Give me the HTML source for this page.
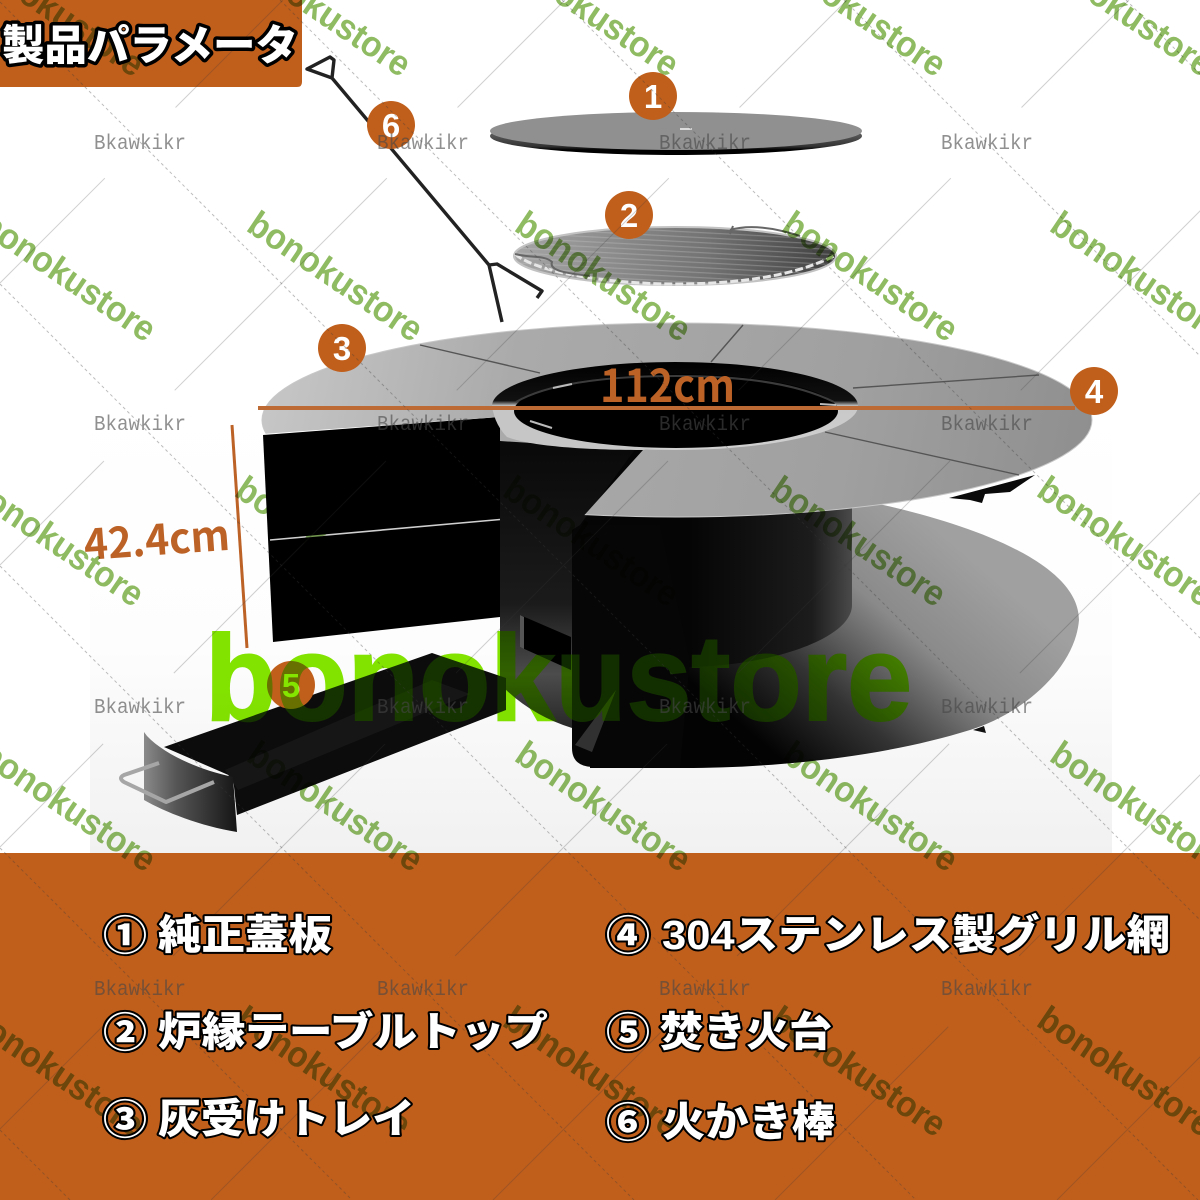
<!DOCTYPE html>
<html lang="ja"><head><meta charset="utf-8"><title>製品パラメータ</title>
<style>
html,body{margin:0;padding:0;background:#fff}
svg{display:block}
.g{font:bold 36px "Liberation Sans",sans-serif;fill:#8fbc62;mix-blend-mode:multiply}
.b{font:21px "Liberation Mono",monospace;fill:rgba(70,70,70,.6)}
.l{font-family:"Liberation Sans","Noto Sans CJK JP",sans-serif;font-weight:900;font-size:41px;fill:#fff;stroke:#000;stroke-width:4px;paint-order:stroke;stroke-linejoin:round}
.c{font-family:"Liberation Sans",sans-serif;font-weight:bold;font-size:33px;fill:#fff;text-anchor:middle}
.m{font-family:"Noto Sans CJK JP","Liberation Sans",sans-serif;font-weight:700;fill:#bd6227}
</style></head><body>
<svg width="1200" height="1200" viewBox="0 0 1200 1200" xmlns="http://www.w3.org/2000/svg">
<defs>
<linearGradient id="fl" x1="0" y1="0" x2="0" y2="1"><stop offset="0" stop-color="#fff"/><stop offset=".55" stop-color="#fdfdfd"/><stop offset="1" stop-color="#f1f1f1"/></linearGradient>
<linearGradient id="ld" gradientUnits="userSpaceOnUse" x1="950" y1="540" x2="770" y2="750"><stop offset="0" stop-color="#a0a0a0"/><stop offset=".35" stop-color="#8a8a8a"/><stop offset=".7" stop-color="#333"/><stop offset="1" stop-color="#030303"/></linearGradient>
<linearGradient id="cy" gradientUnits="userSpaceOnUse" x1="690" y1="0" x2="852" y2="0"><stop offset="0" stop-color="#050505"/><stop offset=".75" stop-color="#1c1c1c"/><stop offset="1" stop-color="#4a4a4a"/></linearGradient>
<linearGradient id="lc" gradientUnits="userSpaceOnUse" x1="0" y1="450" x2="0" y2="730"><stop offset="0" stop-color="#0a0a0a"/><stop offset=".55" stop-color="#1b1b1b"/><stop offset=".8" stop-color="#4c4c4c"/><stop offset="1" stop-color="#262626"/></linearGradient>
<linearGradient id="tb" gradientUnits="userSpaceOnUse" x1="262" y1="340" x2="1092" y2="500"><stop offset="0" stop-color="#c8c8c8"/><stop offset=".3" stop-color="#aaa"/><stop offset=".7" stop-color="#a0a0a0"/><stop offset="1" stop-color="#8e8e8e"/></linearGradient>
<linearGradient id="rg" gradientUnits="userSpaceOnUse" x1="0" y1="362" x2="0" y2="450"><stop offset="0" stop-color="#000"/><stop offset=".44" stop-color="#111"/><stop offset=".5" stop-color="#c8c8c8"/><stop offset="1" stop-color="#d0d0d0"/></linearGradient>
<linearGradient id="gr" gradientUnits="userSpaceOnUse" x1="520" y1="0" x2="835" y2="0"><stop offset="0" stop-color="#a4a4a4"/><stop offset=".6" stop-color="#727272"/><stop offset="1" stop-color="#404040"/></linearGradient>
<linearGradient id="dk" gradientUnits="userSpaceOnUse" x1="0" y1="130" x2="0" y2="155"><stop offset="0" stop-color="#666"/><stop offset=".65" stop-color="#333"/><stop offset=".8" stop-color="#000"/><stop offset="1" stop-color="#000"/></linearGradient>
<linearGradient id="fp" gradientUnits="userSpaceOnUse" x1="144" y1="0" x2="237" y2="0"><stop offset="0" stop-color="#8a8a8a"/><stop offset=".35" stop-color="#555"/><stop offset="1" stop-color="#151515"/></linearGradient>
<pattern id="gl" width="5" height="5" patternUnits="userSpaceOnUse" patternTransform="rotate(3)"><rect width="5" height="1.2" fill="#d0d0d0" opacity=".3"/></pattern>
<clipPath id="cT"><path d="M0 0H1200V600H580V520L643 450L500 441V417L262 434H0Z"/></clipPath>
</defs>

<rect width="1200" height="1200" fill="#fff"/>
<rect x="90" y="400" width="1022" height="453" fill="url(#fl)"/>

<!-- lower disc and centre -->
<path d="M1079 620C1075 670 1020 715 970 730C880 758 770 768 684 768H590V500H860C960 520 1079 560 1079 620Z" fill="url(#ld)"/>
<path d="M560 440H852V605C852 640 765 667 684 667C640 667 600 660 560 650Z" fill="url(#cy)"/>
<path d="M572 525L572 748Q572 766 592 767L680 768L690 660L660 525Z" fill="#060606"/>
<path d="M575 745L616 690L592 752Z" fill="#555" opacity=".55"/>
<path d="M973 730L984 726L986 733Z" fill="#111"/>
<path d="M500 415H660L580 525L572 530V728Q530 715 500 684Z" fill="url(#lc)"/>
<path d="M520 615L571 637V670L520 647Z" fill="#000"/>
<path d="M520 615L524 617V649L520 647Z" fill="#555"/>

<!-- drawers -->
<path d="M263 435L500 417V617L273 642Z" fill="#000"/>
<path d="M270 540L500 519.5" stroke="#cfcfcf" stroke-width="1.6"/>

<!-- underside bracket + table -->
<path d="M949 498L1035 475L1010 492L985 494L982 503L970 500Z" fill="#0a0a0a"/>
<ellipse cx="677" cy="420" rx="415" ry="97" fill="url(#tb)" stroke="#c8c8c8" stroke-width="1" clip-path="url(#cT)"/>
<path d="M743 325L711 362M853 388L1039 375M825 432L1019 475M420 345L540 373" stroke="#555" stroke-width="1.4" fill="none"/>

<!-- hole -->
<ellipse cx="675" cy="406" rx="183" ry="44" fill="url(#rg)"/>
<path d="M492 406C494 420 500 430 507 437C530 446 583 450 643 450L700 440L540 405Z" fill="#c6c6c6"/>
<ellipse cx="676" cy="411" rx="162" ry="37" fill="#000"/>
<path d="M516 402C545 385 600 376 676 376C750 376 800 385 834 402" fill="none" stroke="#3b3b3b" stroke-width="2"/>
<path d="M553 388L572 384M820 404L836 405M530 421L552 428" stroke="#bbb" stroke-width="2"/>

<!-- lid -->
<ellipse cx="676" cy="136" rx="186" ry="19" fill="url(#dk)"/>
<ellipse cx="676" cy="131" rx="186" ry="19" fill="#909090"/>
<path d="M680 129h12" stroke="#ddd" stroke-width="2"/>

<!-- grill -->
<ellipse cx="675" cy="256" rx="161" ry="29" fill="url(#gr)" stroke="#c2c2c2" stroke-width="2"/>
<ellipse cx="675" cy="256" rx="161" ry="29" fill="url(#gl)"/>
<path d="M515 254C540 275 620 284 675 284C730 284 790 278 834 256" fill="none" stroke="#e6e6e6" stroke-width="3" stroke-dasharray="8 3"/>
<path d="M730 234L733 226M730 230C750 224 775 228 800 236M515 254C530 258 545 255 552 262C548 272 575 274 590 276" fill="none" stroke="#666" stroke-width="2"/>

<!-- poker -->
<path d="M332 78L307 69L330 57L334 60L332 78L489 265M489 265L502 322M489 265L497 264L542 291L537 298" fill="none" stroke="#222" stroke-width="3.4" stroke-linejoin="round"/>

<!-- tray -->
<path d="M164 747L432 653L506 678V710L237 815L233 777Z" fill="#0c0c0c"/>
<path d="M225 770L432 680L470 694L238 790Z" fill="#161616"/>
<path d="M144 732L147 736C165 755 200 770 233 777L237 832C200 826 165 812 144 800Z" fill="url(#fp)"/>
<path d="M159 763L124 775Q118 778 124 782L166 802L214 782" fill="none" stroke="#a6a6a6" stroke-width="4" stroke-linejoin="round"/>

<!-- bottom band + tag -->
<rect y="853" width="1200" height="347" fill="#c05f1c"/>
<path d="M0 0H302V82Q302 87 297 87H0Z" fill="#c05f1c"/>

<!-- circles -->
<g fill="#c05f1c">
<circle cx="653" cy="96" r="24"/><circle cx="629" cy="215" r="24"/><circle cx="342" cy="348" r="24"/><circle cx="1094" cy="391" r="24"/><circle cx="391" cy="125" r="24"/><circle cx="291" cy="685" r="24"/>
</g>
<text class="c" x="653" y="108">1</text><text class="c" x="629" y="227">2</text><text class="c" x="342" y="360">3</text><text class="c" x="1094" y="403">4</text><text class="c" x="391" y="137">6</text><text class="c" x="291" y="697">5</text>

<!-- dimensions -->
<path d="M258 408H1075" stroke="#bd6a35" stroke-width="4"/>
<path d="M232 425L247 648" stroke="#bd6227" stroke-width="3"/>
<text class="m" x="600" y="402" font-size="45" textLength="135" lengthAdjust="spacingAndGlyphs">112cm</text>
<text class="m" transform="rotate(-4 85 560)" x="85" y="560" font-size="42" textLength="146" lengthAdjust="spacingAndGlyphs">42.4cm</text>

<!-- large watermark -->
<text x="205" y="720" font-family="Liberation Sans,sans-serif" font-weight="bold" font-size="122" textLength="707" lengthAdjust="spacingAndGlyphs" fill="#7ce000" stroke="#7ce000" stroke-width="2" style="mix-blend-mode:multiply">bonokustore</text>
<text x="205" y="720" font-family="Liberation Sans,sans-serif" font-weight="bold" font-size="122" textLength="707" lengthAdjust="spacingAndGlyphs" fill="#0f2a00" stroke="#0f2a00" stroke-width="2" style="mix-blend-mode:screen">bonokustore</text>

<!-- diagonal guide lines -->
<g fill="none" stroke="rgba(60,60,60,.24)" stroke-width="1" stroke-dasharray="300 100" stroke-dashoffset="148">
<path d="M283 0L0 283M565 0L0 565M847 0L0 847M1129 0L0 1129M1411 0L211 1200M1693 0L493 1200M1975 0L775 1200M2257 0L1057 1200"/>
</g>
<g fill="none" stroke="rgba(60,60,60,.34)" stroke-width="1" stroke-dasharray="3 3">
<path d="M0 1130L70 1200M0 848L352 1200M0 566L634 1200M0 284L916 1200M0 2L1198 1200M280 0L1200 920M562 0L1200 638M844 0L1200 356M1126 0L1200 74"/>
</g>

<!-- green watermarks -->
<g class="wm">
<text class="g" transform="rotate(34 -34 -35)" x="-34" y="-35" textLength="202" lengthAdjust="spacingAndGlyphs">bonokustore</text>
<text class="g" transform="rotate(34 233 -35)" x="233" y="-35" textLength="202" lengthAdjust="spacingAndGlyphs">bonokustore</text>
<text class="g" transform="rotate(34 501 -35)" x="501" y="-35" textLength="202" lengthAdjust="spacingAndGlyphs">bonokustore</text>
<text class="g" transform="rotate(34 768 -35)" x="768" y="-35" textLength="202" lengthAdjust="spacingAndGlyphs">bonokustore</text>
<text class="g" transform="rotate(34 1035 -35)" x="1035" y="-35" textLength="202" lengthAdjust="spacingAndGlyphs">bonokustore</text>
<text class="g" transform="rotate(34 -22 230)" x="-22" y="230" textLength="202" lengthAdjust="spacingAndGlyphs">bonokustore</text>
<text class="g" transform="rotate(34 245 230)" x="245" y="230" textLength="202" lengthAdjust="spacingAndGlyphs">bonokustore</text>
<text class="g" transform="rotate(34 513 230)" x="513" y="230" textLength="202" lengthAdjust="spacingAndGlyphs">bonokustore</text>
<text class="g" transform="rotate(34 780 230)" x="780" y="230" textLength="202" lengthAdjust="spacingAndGlyphs">bonokustore</text>
<text class="g" transform="rotate(34 1048 230)" x="1048" y="230" textLength="202" lengthAdjust="spacingAndGlyphs">bonokustore</text>
<text class="g" transform="rotate(34 -34 495)" x="-34" y="495" textLength="202" lengthAdjust="spacingAndGlyphs">bonokustore</text>
<text class="g" transform="rotate(34 233 495)" x="233" y="495" textLength="202" lengthAdjust="spacingAndGlyphs">bonokustore</text>
<text class="g" transform="rotate(34 501 495)" x="501" y="495" textLength="202" lengthAdjust="spacingAndGlyphs">bonokustore</text>
<text class="g" transform="rotate(34 768 495)" x="768" y="495" textLength="202" lengthAdjust="spacingAndGlyphs">bonokustore</text>
<text class="g" transform="rotate(34 1035 495)" x="1035" y="495" textLength="202" lengthAdjust="spacingAndGlyphs">bonokustore</text>
<text class="g" transform="rotate(34 -22 760)" x="-22" y="760" textLength="202" lengthAdjust="spacingAndGlyphs">bonokustore</text>
<text class="g" transform="rotate(34 245 760)" x="245" y="760" textLength="202" lengthAdjust="spacingAndGlyphs">bonokustore</text>
<text class="g" transform="rotate(34 513 760)" x="513" y="760" textLength="202" lengthAdjust="spacingAndGlyphs">bonokustore</text>
<text class="g" transform="rotate(34 780 760)" x="780" y="760" textLength="202" lengthAdjust="spacingAndGlyphs">bonokustore</text>
<text class="g" transform="rotate(34 1048 760)" x="1048" y="760" textLength="202" lengthAdjust="spacingAndGlyphs">bonokustore</text>
<text class="g" transform="rotate(34 -34 1025)" x="-34" y="1025" textLength="202" lengthAdjust="spacingAndGlyphs">bonokustore</text>
<text class="g" transform="rotate(34 233 1025)" x="233" y="1025" textLength="202" lengthAdjust="spacingAndGlyphs">bonokustore</text>
<text class="g" transform="rotate(34 501 1025)" x="501" y="1025" textLength="202" lengthAdjust="spacingAndGlyphs">bonokustore</text>
<text class="g" transform="rotate(34 768 1025)" x="768" y="1025" textLength="202" lengthAdjust="spacingAndGlyphs">bonokustore</text>
<text class="g" transform="rotate(34 1035 1025)" x="1035" y="1025" textLength="202" lengthAdjust="spacingAndGlyphs">bonokustore</text>
</g>

<!-- grey watermarks -->
<g>
<text class="b" x="94" y="149" textLength="92" lengthAdjust="spacingAndGlyphs">Bkawkikr</text>
<text class="b" x="377" y="149" textLength="92" lengthAdjust="spacingAndGlyphs">Bkawkikr</text>
<text class="b" x="659" y="149" textLength="92" lengthAdjust="spacingAndGlyphs">Bkawkikr</text>
<text class="b" x="941" y="149" textLength="92" lengthAdjust="spacingAndGlyphs">Bkawkikr</text>
<text class="b" x="94" y="430" textLength="92" lengthAdjust="spacingAndGlyphs">Bkawkikr</text>
<text class="b" x="377" y="430" textLength="92" lengthAdjust="spacingAndGlyphs">Bkawkikr</text>
<text class="b" x="659" y="430" textLength="92" lengthAdjust="spacingAndGlyphs">Bkawkikr</text>
<text class="b" x="941" y="430" textLength="92" lengthAdjust="spacingAndGlyphs">Bkawkikr</text>
<text class="b" x="94" y="713" textLength="92" lengthAdjust="spacingAndGlyphs">Bkawkikr</text>
<text class="b" x="377" y="713" textLength="92" lengthAdjust="spacingAndGlyphs">Bkawkikr</text>
<text class="b" x="659" y="713" textLength="92" lengthAdjust="spacingAndGlyphs">Bkawkikr</text>
<text class="b" x="941" y="713" textLength="92" lengthAdjust="spacingAndGlyphs">Bkawkikr</text>
<text class="b" x="94" y="995" textLength="92" lengthAdjust="spacingAndGlyphs">Bkawkikr</text>
<text class="b" x="377" y="995" textLength="92" lengthAdjust="spacingAndGlyphs">Bkawkikr</text>
<text class="b" x="659" y="995" textLength="92" lengthAdjust="spacingAndGlyphs">Bkawkikr</text>
<text class="b" x="941" y="995" textLength="92" lengthAdjust="spacingAndGlyphs">Bkawkikr</text>
</g>

<!-- labels -->
<text class="l" x="2" y="60" style="font-size:42px;stroke-width:7px" textLength="296" lengthAdjust="spacingAndGlyphs">製品パラメータ</text>
<text class="l" x="103" y="950" textLength="44" lengthAdjust="spacingAndGlyphs">①</text>
<text class="l" x="158" y="949" textLength="174" lengthAdjust="spacingAndGlyphs">純正蓋板</text>
<text class="l" x="103" y="1047" textLength="44" lengthAdjust="spacingAndGlyphs">②</text>
<text class="l" x="158" y="1046" textLength="390" lengthAdjust="spacingAndGlyphs">炉縁テーブルトップ</text>
<text class="l" x="103" y="1134" textLength="44" lengthAdjust="spacingAndGlyphs">③</text>
<text class="l" x="158" y="1133" textLength="257" lengthAdjust="spacingAndGlyphs">灰受けトレイ</text>
<text class="l" x="606" y="950" textLength="44" lengthAdjust="spacingAndGlyphs">④</text>
<text class="l" x="662" y="949" textLength="508" lengthAdjust="spacingAndGlyphs">304ステンレス製グリル網</text>
<text class="l" x="606" y="1047" textLength="44" lengthAdjust="spacingAndGlyphs">⑤</text>
<text class="l" x="660" y="1046" textLength="172" lengthAdjust="spacingAndGlyphs">焚き火台</text>
<text class="l" x="606" y="1137" textLength="44" lengthAdjust="spacingAndGlyphs">⑥</text>
<text class="l" x="662" y="1136" textLength="173" lengthAdjust="spacingAndGlyphs">火かき棒</text>
</svg>
</body></html>
